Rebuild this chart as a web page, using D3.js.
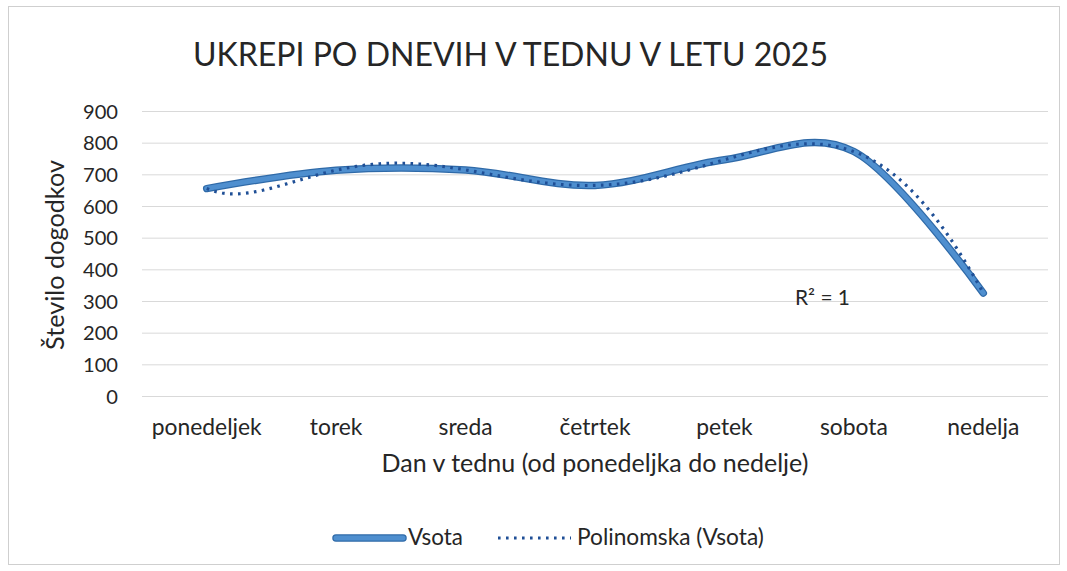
<!DOCTYPE html>
<html><head><meta charset="utf-8">
<script src="https://cdn.jsdelivr.net/npm/d3@7"></script>
<style>
html,body{margin:0;padding:0;background:#fff;}
text{font-family:Lato,"Open Sans",sans-serif;fill:#262626;}
</style></head>
<body>
<svg id="c" width="1067" height="571"></svg>
<script>
const categories = ["ponedeljek","torek","sreda","četrtek","petek","sobota","nedelja"];
const vsota = [655, 713, 714, 665, 746, 772, 325];
const yTicks = [0,100,200,300,400,500,600,700,800,900];
const titleText = "UKREPI PO DNEVIH V TEDNU V LETU 2025";
const yTitle = "Število dogodkov";
const xTitle = "Dan v tednu (od ponedeljka do nedelje)";
const legendLabels = ["Vsota", "Polinomska (Vsota)"];
const r2Text = "R² = 1";

const svg = d3.select("#c");
const W = 1067, H = 571;

// chart frame
svg.append("rect").attr("x",8.5).attr("y",6.5).attr("width",1051).attr("height",558)
  .attr("fill","none").attr("stroke","#cfcfcf").attr("stroke-width",1);

const x = d3.scaleBand().domain(categories).range([142,1048]);
const y = d3.scaleLinear().domain([0,900]).range([396,111]);

function fit(sel, target, size){
  sel.attr("font-size", size);
  const w = sel.node().getComputedTextLength();
  sel.attr("font-size", (size*target/w).toFixed(2));
  return sel;
}

// gridlines
svg.append("g").selectAll("line").data(yTicks).join("line")
  .attr("x1",142).attr("x2",1048)
  .attr("y1",d=>y(d)+0.5).attr("y2",d=>y(d)+0.5)
  .attr("stroke","#d9d9d9").attr("stroke-width",1);

// y axis labels
const yAxis = svg.append("g").attr("transform","translate(118,0)")
  .call(d3.axisLeft(y).tickValues(yTicks).tickSize(0).tickPadding(0));
yAxis.select(".domain").remove();
yAxis.selectAll("text").attr("font-family","Lato, 'Open Sans', sans-serif")
  .attr("fill","#262626").attr("font-size",20).attr("dy","0.35em");
yAxis.selectAll("text").each(function(){ if(this.textContent==="900") fit(d3.select(this),35,20); });
const ySize = yAxis.selectAll("text").filter(function(){return this.textContent==="900";}).attr("font-size");
yAxis.selectAll("text").attr("font-size", ySize);

// x axis labels
const xAxis = svg.append("g").attr("transform","translate(0,417)")
  .call(d3.axisBottom(x).tickSize(0).tickPadding(0));
xAxis.select(".domain").remove();
xAxis.selectAll("text").attr("font-family","Lato, 'Open Sans', sans-serif")
  .attr("fill","#262626").attr("dy","0.8em");
let xs = 20;
xAxis.selectAll("text").each(function(){ if(this.textContent==="ponedeljek"){ fit(d3.select(this),110,20); xs=d3.select(this).attr("font-size"); } });
xAxis.selectAll("text").attr("font-size", xs);

// title
fit(svg.append("text").attr("x",193).attr("y",66).text(titleText), 635, 30);

// axis titles
fit(svg.append("text").attr("text-anchor","middle")
  .attr("transform","translate(64,255) rotate(-90)").text(yTitle), 190, 20);
fit(svg.append("text").attr("text-anchor","middle").attr("x",595).attr("y",472).text(xTitle), 427, 20);

// main smoothed line
const cx = d => x(d) + x.bandwidth()/2;
const pts = categories.map((c,i)=>[cx(c), y(vsota[i])]);
const smooth = d3.line().curve(d3.curveCardinal.tension(0));
svg.append("path").attr("d", smooth(pts)).attr("fill","none")
  .attr("stroke","#2f6aa8").attr("stroke-width",7.5).attr("stroke-linecap","round").attr("stroke-linejoin","round");
svg.append("path").attr("d", smooth(pts)).attr("fill","none")
  .attr("stroke","#4f8fcf").attr("stroke-width",5).attr("stroke-linecap","round").attr("stroke-linejoin","round");

// polynomial trendline (order 6 fit through the 7 points -> R² = 1)
function lagrange(t){
  let s = 0;
  for(let i=0;i<vsota.length;i++){
    let p = vsota[i];
    for(let j=0;j<vsota.length;j++){ if(j!==i) p *= (t-j)/(i-j); }
    s += p;
  }
  return s;
}
const step = x.step();
const tl = d3.range(0, 6.0001, 0.02).map(t => [cx(categories[0]) + t*step, y(lagrange(t))]);
svg.append("path").attr("d", d3.line()(tl)).attr("fill","none")
  .attr("stroke","#1f4f96").attr("stroke-width",3.2).attr("stroke-dasharray","2.6 5.4");

// R² label
const r2 = svg.append("text").attr("x",795).attr("y",305).text(r2Text);
fit(r2, 55, 19);

// legend
svg.append("line").attr("x1",336).attr("x2",403).attr("y1",538).attr("y2",538)
  .attr("stroke","#2f6aa8").attr("stroke-width",7.5).attr("stroke-linecap","round");
svg.append("line").attr("x1",336).attr("x2",403).attr("y1",538).attr("y2",538)
  .attr("stroke","#4f8fcf").attr("stroke-width",5).attr("stroke-linecap","round");
fit(svg.append("text").attr("x",408).attr("y",545).text(legendLabels[0]), 55, 20);
svg.append("line").attr("x1",498).attr("x2",571).attr("y1",538).attr("y2",538)
  .attr("stroke","#1f4f96").attr("stroke-width",3.2).attr("stroke-dasharray","2.6 5.4");
fit(svg.append("text").attr("x",577).attr("y",545).text(legendLabels[1]), 187, 20);
</script>
</body></html>
